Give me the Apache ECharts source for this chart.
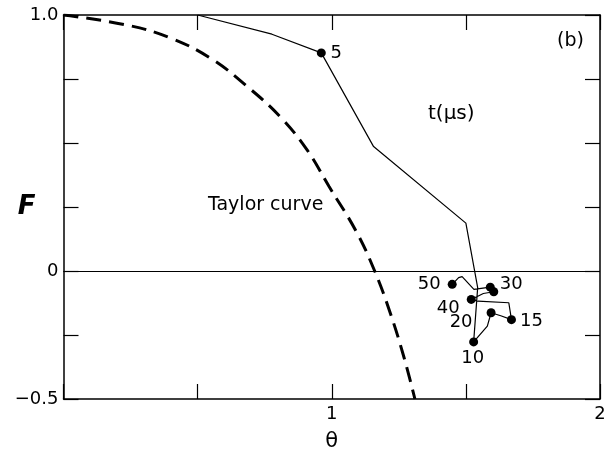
<!DOCTYPE html>
<html>
<head>
<meta charset="utf-8">
<script src="https://cdn.jsdelivr.net/npm/echarts@6/dist/echarts.min.js"></script>
<style>
  html, body { margin: 0; padding: 0; background: #fff; }
  #chart { width: 608px; height: 455px; }
</style>
</head>
<body>
<div id="chart"></div>
<script>
// Taylor curve (dashed)
const taylorTheta = [0, 0.24, 0.40, 0.55, 0.68, 0.81, 0.91, 0.99, 1.09, 1.16, 1.22, 1.27, 1.31]
const taylorF = [1.0, 0.96, 0.91, 0.83, 0.725, 0.60, 0.47, 0.33, 0.157, 0.0, -0.17, -0.34, -0.5]

// measured trajectory (thin solid line)
const pathTheta = [0.50, 0.777, 0.961, 1.156, 1.50, 1.544, 1.529, 1.580, 1.594, 1.630, 1.670,
  1.660, 1.545, 1.520, 1.565, 1.604, 1.591, 1.530, 1.486, 1.473, 1.449]
const pathF = [1.0, 0.925, 0.852, 0.486, 0.187, -0.065, -0.277, -0.215, -0.163, -0.175, -0.190,
  -0.124, -0.118, -0.111, -0.088, -0.081, -0.063, -0.072, -0.022, -0.026, -0.052]

// labelled time points t (µs)
const dotTheta = [0.961, 1.529, 1.670, 1.594, 1.520, 1.591, 1.604, 1.449]
const dotF = [0.852, -0.277, -0.190, -0.163, -0.111, -0.063, -0.081, -0.052]
const dotLabels = ['5', '10', '15', '20', '40', '30', '', '50']

const xTickLabels = { '1': '1', '2': '2' }
const yTickLabels = { '1': '1.0', '0': '0', '-0.5': '\u22120.5' }

const font = 'DejaVu Sans'
const labelOffsets = [[15, 0], [-1, 16], [20, 2], [-30, 10], [-23, 9], [21, -3], [0, 0], [-23, 0]]

const chart = echarts.init(document.getElementById('chart'))

const axisLine = { show: true, onZero: false, lineStyle: { color: '#000', width: 1.5 } }
const axisTick = { show: true, inside: true, length: 15, lineStyle: { color: '#000', width: 1.2 } }

const option = {
  backgroundColor: '#fff',
  animation: false,
  grid: { left: 63.5, right: 8, top: 15, bottom: 56, containLabel: false, outerBoundsMode: 'none' },
  xAxis: [
    {
      type: 'value', min: 0, max: 2, interval: 0.5, position: 'bottom',
      name: 'θ', nameLocation: 'middle', nameGap: 32,
      nameTextStyle: { fontFamily: font, fontSize: 21, color: '#000' },
      axisLine, axisTick, splitLine: { show: false },
      axisLabel: {
        fontFamily: font, fontSize: 18, color: '#000', margin: 6,
        formatter: (v) => xTickLabels[String(v)] ?? '',
      },
    },
    {
      type: 'value', min: 0, max: 2, interval: 0.5, position: 'top',
      axisLine, axisTick, splitLine: { show: false }, axisLabel: { show: false },
    },
  ],
  yAxis: [
    {
      type: 'value', min: -0.5, max: 1, interval: 0.25, position: 'left',
      name: 'F', nameLocation: 'middle', nameGap: 28, nameRotate: 0, nameMoveOverlap: false,
      nameTextStyle: { fontFamily: font, fontSize: 26, fontStyle: 'italic', fontWeight: 'bold', color: '#000' },
      axisLine, axisTick, splitLine: { show: false },
      axisLabel: {
        fontFamily: font, fontSize: 18, color: '#000', margin: 5,
        formatter: (v) => yTickLabels[String(v)] ?? '',
      },
    },
    {
      type: 'value', min: -0.5, max: 1, interval: 0.25, position: 'right',
      axisLine, axisTick, splitLine: { show: false }, axisLabel: { show: false },
    },
  ],
  graphic: [
    { type: 'text', left: 208, top: 196, style: { text: 'Taylor curve', font: `19px "${font}"`, fill: '#000' } },
    { type: 'text', left: 428, top: 104, style: { text: 't(μs)', font: `20px "${font}"`, fill: '#000' } },
    { type: 'text', left: 557, top: 32, style: { text: '(b)', font: `19px "${font}"`, fill: '#000' } },
  ],
  series: [
    {
      name: 'Taylor curve',
      type: 'line',
      data: taylorTheta.map((t, i) => [t, taylorF[i]]),
      smooth: 0.4,
      symbol: 'none',
      lineStyle: { color: '#000', width: 3, type: [15, 8] },
      markLine: {
        silent: true,
        symbol: 'none',
        label: { show: false },
        lineStyle: { color: '#000', width: 1.2, type: 'solid' },
        data: [{ yAxis: 0 }],
      },
    },
    {
      name: 'trajectory',
      type: 'line',
      data: pathTheta.map((t, i) => [t, pathF[i]]),
      symbol: 'none',
      lineStyle: { color: '#000', width: 1.2 },
    },
    {
      name: 't(μs)',
      type: 'scatter',
      symbolSize: 9,
      itemStyle: { color: '#000', opacity: 1 },
      data: dotTheta.map((t, i) => ({
        value: [t, dotF[i]],
        label: {
          show: dotLabels[i] !== '',
          formatter: dotLabels[i],
          position: 'inside',
          offset: labelOffsets[i],
          color: '#000',
          textBorderWidth: 0,
        },
      })),
      label: { fontFamily: font, fontSize: 18, color: '#000' },
    },
  ],
}

chart.setOption(option)
</script>
</body>
</html>
